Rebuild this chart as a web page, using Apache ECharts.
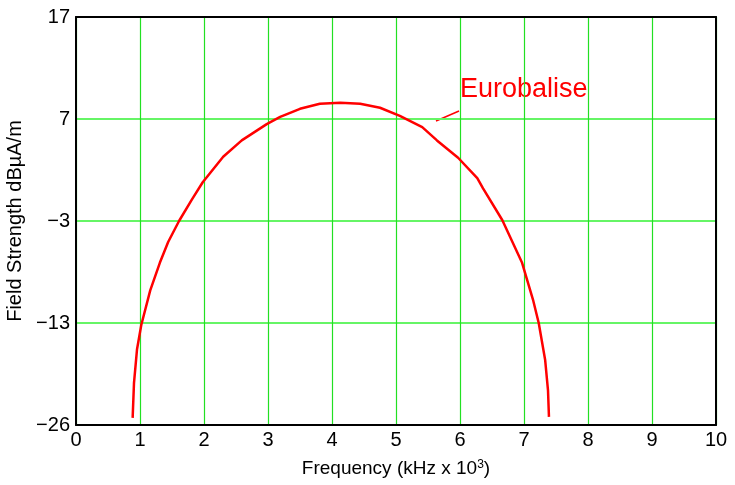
<!DOCTYPE html>
<html>
<head>
<meta charset="utf-8">
<script src="https://cdn.jsdelivr.net/npm/echarts@6/dist/echarts.min.js"></script>
<style>html,body{margin:0;padding:0;background:#fff}#c{width:735px;height:485px}</style>
</head>
<body>
<div id="c"></div>
<script>
var freq = [0.885, 0.906, 0.953, 1.02, 1.16, 1.31, 1.44, 1.61, 1.81, 1.98, 2.30, 2.59, 2.98, 3.19, 3.50, 3.81, 4.13, 4.44, 4.75, 5.06, 5.41, 5.64, 5.97, 6.27, 6.36, 6.66, 6.97, 7.14, 7.23, 7.33, 7.375, 7.39];
var strength = [-22.3, -18.9, -15.6, -13.2, -9.8, -7.1, -5.06, -3.0, -0.9, 0.8, 3.3, 4.9, 6.5, 7.2, 8.0, 8.5, 8.6, 8.5, 8.1, 7.3, 6.2, 4.9, 3.2, 1.2, 0.2, -2.9, -7.1, -10.7, -13.0, -16.6, -19.6, -22.2];
var yTickValues = [-23, -13, -3, 7, 17];
var yTickLabels = ["\u221226", "\u221213", "\u22123", "7", "17"];
var seriesName = "Eurobalise";

var chart = echarts.init(document.getElementById('c'), null, {renderer: 'canvas'});
var pts = freq.map(function (f, i) { return [f, strength[i]]; });
var font = 'Liberation Sans, Arial, sans-serif';
var frame = {show: true, onZero: false, lineStyle: {color: '#000', width: 2}};
chart.setOption({
  animation: false,
  backgroundColor: '#fff',
  grid: {left: 76, right: 19, top: 17, bottom: 60, containLabel: false, outerBoundsMode: 'none'},
  xAxis: [{
    type: 'value', min: 0, max: 10, interval: 1,
    name: 'Frequency (kHz x 10{sup|3})', nameLocation: 'middle', nameGap: 34,
    nameTextStyle: {fontFamily: font, fontSize: 19, color: '#000',
      rich: {sup: {fontFamily: font, fontSize: 12, color: '#000', verticalAlign: 'top', padding: [0, 0, 8, 0]}}},
    axisLine: frame,
    axisTick: {show: false},
    axisLabel: {fontFamily: font, fontSize: 20, color: '#000', margin: 5},
    splitLine: {show: true, lineStyle: {color: '#22e022', width: 1.2}},
    z: 3
  }, {
    type: 'value', min: 0, max: 10, position: 'top',
    axisLine: frame, axisTick: {show: false}, axisLabel: {show: false}, splitLine: {show: false}, z: 3
  }],
  yAxis: [{
    type: 'value', min: -23, max: 17,
    name: 'Field Strength dB\u00b5A/m', nameLocation: 'middle', nameGap: 46,
    nameTextStyle: {fontFamily: font, fontSize: 20, color: '#000'},
    axisLine: frame,
    axisTick: {show: false, customValues: yTickValues},
    axisLabel: {
      fontFamily: font, fontSize: 20, color: '#000', margin: 6,
      customValues: yTickValues,
      formatter: function (v) {
        var i = yTickValues.indexOf(Math.round(v));
        return i >= 0 ? yTickLabels[i] : '';
      }
    },
    splitLine: {show: true, lineStyle: {color: '#66f566', width: 1.8}},
    z: 3
  }, {
    type: 'value', min: -23, max: 17, position: 'right',
    axisLine: frame, axisTick: {show: false}, axisLabel: {show: false}, splitLine: {show: false}, z: 3
  }],
  series: [{
    name: seriesName, type: 'line', data: pts, showSymbol: false, smooth: false,
    xAxisIndex: 0, yAxisIndex: 0,
    lineStyle: {color: '#ff0000', width: 2.5}, z: 5
  }],
  graphic: [
    {type: 'text', left: 460, top: 76, style: {text: seriesName, fill: '#ff0000', font: '27px Liberation Sans, Arial, sans-serif'}},
    {type: 'line', shape: {x1: 436, y1: 121, x2: 459, y2: 111}, style: {stroke: '#ff0000', lineWidth: 1.5}}
  ]
});
</script>
</body>
</html>
